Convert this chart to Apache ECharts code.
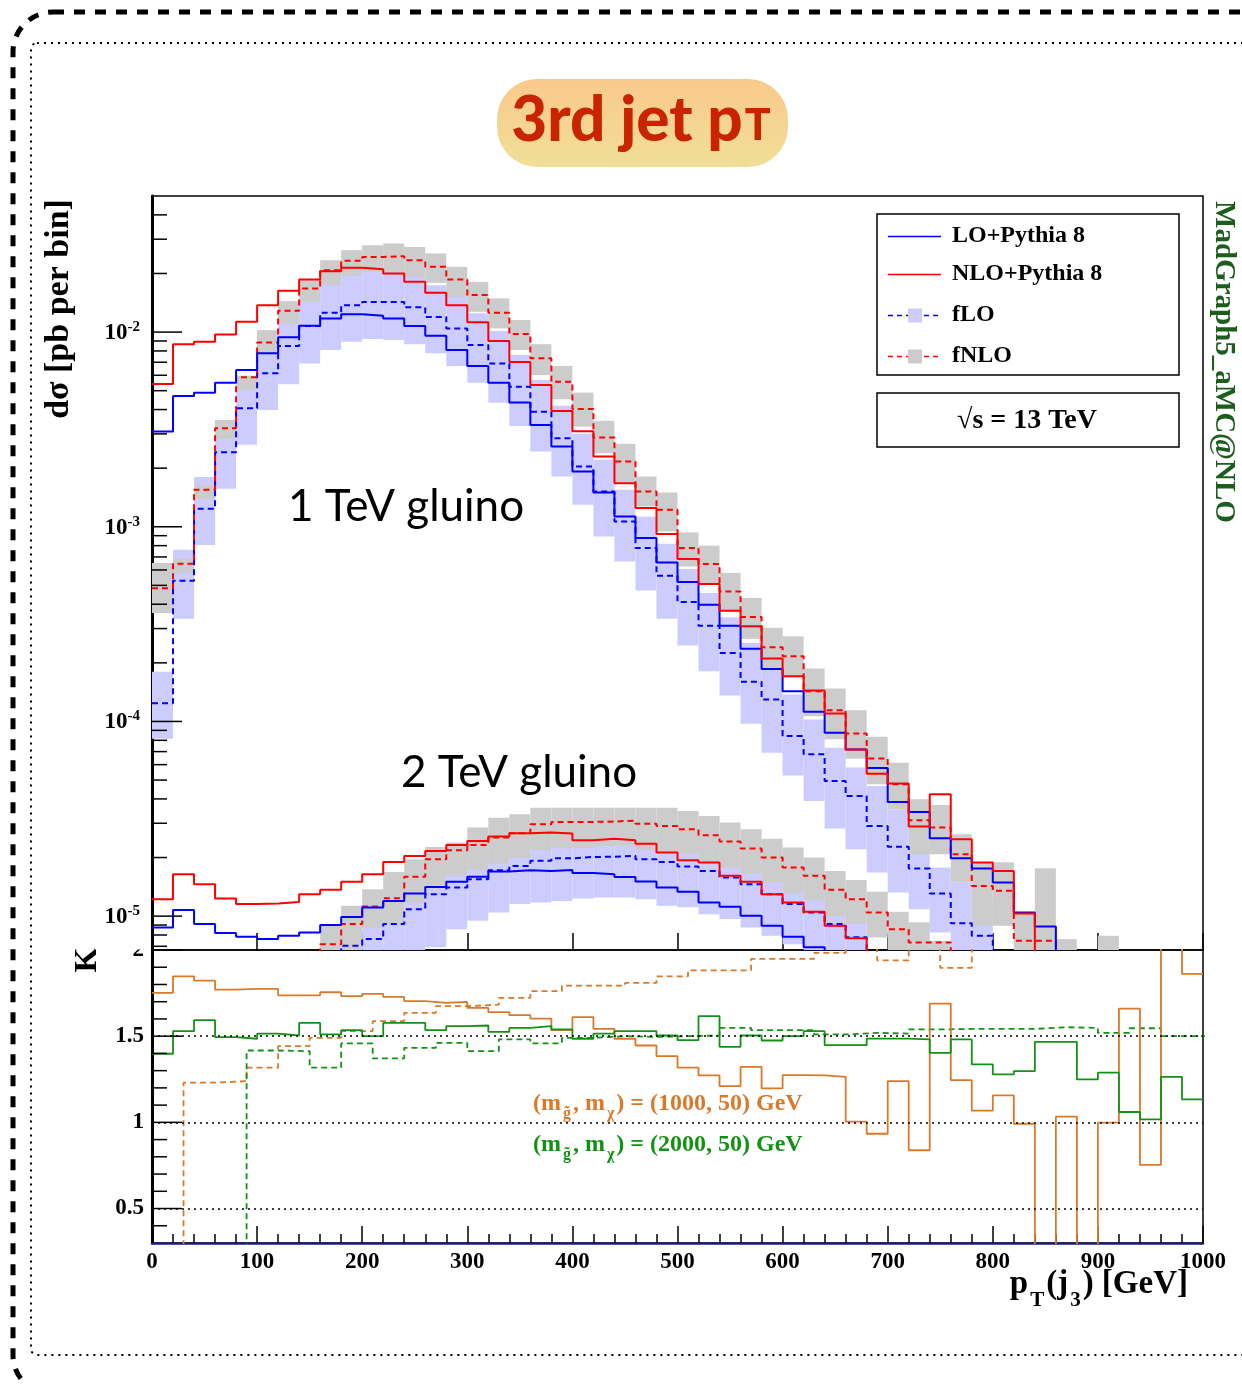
<!DOCTYPE html>
<html><head><meta charset="utf-8">
<script src="https://cdn.jsdelivr.net/npm/echarts@6/dist/echarts.min.js"></script>
<style>html,body{margin:0;padding:0;background:#fff}#c{width:1242px;height:1384px}</style>
</head><body><div id="c"></div><script>
// ---------------- DATA ----------------
// x bins: 20 GeV wide for the spectra and the matched K-factors, 30 GeV for the fixed-order K-factors
const binWidth = 20;
const kBinWidth = 30;
const xTicks = [0, 100, 200, 300, 400, 500, 600, 700, 800, 900, 1000];

// top panel: log10( dsigma [pb per bin] ), one entry per 20 GeV bin (null = no entry)
// 1 TeV gluino
const lo1 = [-2.511,-2.328,-2.311,-2.260,-2.195,-2.109,-2.027,-1.968,-1.930,-1.908,-1.916,-1.930,-1.969,-2.019,-2.092,-2.174,-2.260,-2.362,-2.477,-2.588,-2.716,-2.824,-2.947,-3.058,-3.183,-3.284,-3.400,-3.508,-3.627,-3.730,-3.845,-3.950,-4.058,-4.144,-4.239,-4.414,-4.465,-4.600,-4.703,-4.755,-4.827,-4.981,-5.053,-5.5];
const nlo1 = [-2.267,-2.062,-2.050,-2.012,-1.947,-1.862,-1.788,-1.730,-1.687,-1.670,-1.677,-1.699,-1.742,-1.798,-1.862,-1.950,-2.046,-2.154,-2.272,-2.405,-2.509,-2.639,-2.776,-2.904,-3.037,-3.166,-3.294,-3.431,-3.511,-3.677,-3.768,-3.841,-3.959,-4.144,-4.268,-4.319,-4.540,-4.374,-4.605,-4.725,-4.768,-4.986,-5.5];
const flo1 = [-3.906,-3.277,-2.908,-2.617,-2.391,-2.212,-2.072,-1.969,-1.901,-1.862,-1.845,-1.845,-1.873,-1.922,-1.981,-2.067,-2.161,-2.281,-2.409,-2.545,-2.691,-2.819,-2.973,-3.109,-3.251,-3.386,-3.508,-3.648,-3.796,-3.887,-4.075,-4.169,-4.306,-4.383,-4.537,-4.643,-4.755,-4.884,-5.037,-5.101,-5.5];
const fnlo1 = [-3.316,-3.190,-2.810,-2.494,-2.232,-2.053,-1.891,-1.776,-1.682,-1.634,-1.614,-1.610,-1.631,-1.665,-1.730,-1.810,-1.901,-2.010,-2.135,-2.255,-2.395,-2.542,-2.665,-2.819,-2.913,-3.109,-3.191,-3.332,-3.463,-3.619,-3.665,-3.845,-3.942,-4.062,-4.190,-4.323,-4.508,-4.545,-4.682,-4.845,-4.870,-5.127,-5.127,-5.5];
const flo1Hi = [-3.745,-3.118,-2.745,-2.451,-2.226,-2.046,-1.908,-1.805,-1.738,-1.697,-1.682,-1.682,-1.708,-1.759,-1.815,-1.903,-1.995,-2.118,-2.246,-2.379,-2.523,-2.656,-2.810,-2.949,-3.087,-3.217,-3.340,-3.465,-3.596,-3.733,-3.862,-3.990,-4.135,-4.237,-4.332,-4.451,-4.639,-4.750,-4.827,-4.928];
const flo1Lo = [-4.089,-3.473,-3.094,-2.805,-2.579,-2.400,-2.268,-2.161,-2.092,-2.050,-2.036,-2.041,-2.062,-2.109,-2.174,-2.260,-2.363,-2.482,-2.614,-2.742,-2.887,-3.050,-3.178,-3.328,-3.472,-3.610,-3.742,-3.867,-4.012,-4.161,-4.277,-4.409,-4.550,-4.656,-4.776,-4.878,-4.964,-5.084,-5.3,-5.3];
const fnlo1Hi = [-3.186,-3.164,-2.785,-2.451,-2.224,-1.990,-1.841,-1.733,-1.631,-1.579,-1.554,-1.545,-1.563,-1.596,-1.665,-1.742,-1.827,-1.938,-2.062,-2.174,-2.311,-2.456,-2.574,-2.742,-2.824,-3.029,-3.097,-3.237,-3.366,-3.519,-3.563,-3.728,-3.831,-3.942,-4.078,-4.212,-4.400,-4.429,-4.579,-4.723,-4.723,-4.979,-4.754,-5.118,null,-5.101];
const fnlo1Lo = [-3.443,-3.237,-2.858,-2.550,-2.297,-2.109,-1.955,-1.845,-1.759,-1.711,-1.691,-1.691,-1.716,-1.747,-1.819,-1.896,-1.981,-2.092,-2.221,-2.345,-2.486,-2.622,-2.776,-2.896,-3.024,-3.204,-3.289,-3.434,-3.576,-3.730,-3.768,-3.973,-4.092,-4.191,-4.323,-4.451,-4.682,-4.682,-4.827,-5.050,-5.050,-5.3,-5.3,-5.3,null,-5.3];

// 2 TeV gluino
const lo2 = [-5.058,-4.969,-5.041,-5.087,-5.106,-5.118,-5.101,-5.084,-5.046,-5.004,-4.955,-4.922,-4.884,-4.850,-4.824,-4.798,-4.771,-4.764,-4.768,-4.763,-4.779,-4.785,-4.799,-4.822,-4.853,-4.875,-4.930,-4.952,-4.998,-5.050,-5.106,-5.160,-5.5];
const nlo2 = [-4.913,-4.785,-4.836,-4.909,-4.938,-4.935,-4.927,-4.887,-4.865,-4.824,-4.785,-4.722,-4.691,-4.665,-4.634,-4.614,-4.591,-4.574,-4.571,-4.576,-4.610,-4.602,-4.610,-4.628,-4.673,-4.713,-4.725,-4.793,-4.824,-4.887,-4.930,-4.978,-5.050,-5.113,-5.5];
const flo2 = [null,null,null,null,null,null,null,null,-5.5,-5.152,-5.118,-5.041,-4.964,-4.887,-4.853,-4.810,-4.764,-4.742,-4.716,-4.703,-4.696,-4.695,-4.690,-4.708,-4.722,-4.745,-4.768,-4.802,-4.836,-4.887,-4.938,-4.981,-5.041,-5.109,-5.5];
const fnlo2 = [null,null,null,null,null,null,null,-5.5,-5.144,-5.041,-4.950,-4.908,-4.798,-4.708,-4.662,-4.634,-4.596,-4.574,-4.528,-4.516,-4.516,-4.514,-4.509,-4.526,-4.537,-4.554,-4.585,-4.617,-4.653,-4.699,-4.750,-4.793,-4.865,-4.913,-4.981,-5.067,-5.135,-5.135,-5.5];
const flo2Hi = [null,null,null,null,null,null,null,null,null,-4.97,-4.94,-4.86,-4.78,-4.71,-4.67,-4.63,-4.58,-4.56,-4.54,-4.52,-4.52,-4.51,-4.51,-4.53,-4.54,-4.57,-4.59,-4.62,-4.66,-4.71,-4.76,-4.80,-4.86,-4.93];
const flo2Lo = [null,null,null,null,null,null,null,null,null,-5.35,-5.30,-5.25,-5.19,-5.16,-5.067,-5.024,-4.981,-4.938,-4.930,-4.922,-4.909,-4.904,-4.904,-4.913,-4.947,-4.954,-4.990,-5.015,-5.058,-5.101,-5.144,-5.195,-5.26,-5.33];
const fnlo2Hi = [null,null,null,null,null,null,null,null,-5.050,-4.947,-4.862,-4.773,-4.708,-4.645,-4.622,-4.545,-4.494,-4.477,-4.443,-4.443,-4.443,-4.443,-4.443,-4.443,-4.443,-4.460,-4.486,-4.519,-4.554,-4.602,-4.648,-4.699,-4.768,-4.814,-4.875,-4.978,-5.032,-5.127];
const fnlo2Lo = [null,null,null,null,null,null,null,null,-5.27,-5.17,-5.06,-5.04,-4.93,-4.84,-4.79,-4.76,-4.73,-4.70,-4.66,-4.65,-4.65,-4.64,-4.64,-4.66,-4.67,-4.68,-4.72,-4.75,-4.78,-4.83,-4.88,-4.92,-5.00,-5.04,-5.11,-5.20,-5.27,-5.27];

// bottom panel: K factors
const kMatched1 = [1.751,1.847,1.822,1.770,1.774,1.774,1.737,1.737,1.755,1.732,1.745,1.728,1.703,1.693,1.699,1.664,1.639,1.622,1.602,1.535,1.610,1.542,1.485,1.446,1.384,1.317,1.272,1.210,1.322,1.197,1.274,1.272,1.264,1.004,0.934,1.239,0.838,1.689,1.245,1.068,1.156,0.992,0,1.033,0,0.998,1.660,0.753,2.5,1.861];
const kMatched2 = [1.398,1.529,1.593,1.494,1.485,1.515,1.504,1.577,1.510,1.535,1.500,1.577,1.577,1.535,1.558,1.562,1.525,1.548,1.558,1.539,1.485,1.515,1.529,1.529,1.504,1.477,1.616,1.438,1.504,1.475,1.500,1.529,1.448,1.448,1.486,1.486,1.481,1.403,1.481,1.336,1.278,1.297,1.467,1.467,1.249,1.288,1.060,1.017,1.264,1.133];
const kFixed1 = [0,1.230,1.239,1.317,1.442,1.490,1.529,1.587,1.635,1.674,1.683,1.722,1.761,1.793,1.793,1.809,1.847,1.882,1.882,1.948,1.948,1.983,2.05,1.940,2.05,1.896,2.2,2.2,2.2,2.2];
const kFixed2 = [0,0,0,1.417,1.413,1.317,1.458,1.371,1.432,1.461,1.413,1.481,1.458,1.490,1.500,1.496,1.500,1.504,1.548,1.535,1.535,1.510,1.519,1.515,1.539,1.542,1.542,1.542,1.552,1.548,1.519,1.546,1.500,1.500];
const kRefLines = [0.5, 1, 1.5];

// ---------------- helpers ----------------
const Y_MIN = 6.7e-6, Y_MAX = 0.05, K_MIN = 0.3, K_MAX = 2.0;
const SERIF = '"Liberation Serif", "Times New Roman", serif';
const BLUE = '#0000ff', RED = '#ff0000', ORANGE = '#d9792a', GREEN = '#129212';

function stepData(values, width, isLog) {
  const out = [];
  for (let i = 0; i < values.length; i++) {
    const v = values[i];
    if (v == null) { if (out.length && out[out.length - 1][1] !== '-') out.push([i * width, '-']); continue; }
    const y = isLog ? Math.pow(10, v) : v;
    out.push([i * width, y]);
    if (values[i + 1] == null) out.push([(i + 1) * width, y]);
  }
  return out;
}
function bandData(lo, hi) {
  const out = [];
  for (let i = 0; i < lo.length; i++) {
    if (lo[i] == null || hi[i] == null) continue;
    out.push([i * binWidth, (i + 1) * binWidth, Math.pow(10, lo[i]), Math.pow(10, hi[i])]);
  }
  return out;
}
function bandSeries(lo, hi, color, z) {
  return {
    type: 'custom', xAxisIndex: 0, yAxisIndex: 0, z: z, silent: true,
    encode: { x: [0, 1], y: [2, 3] },
    data: bandData(lo, hi),
    renderItem: function (params, api) {
      const a = api.coord([api.value(0), api.value(3)]);
      const b = api.coord([api.value(1), api.value(2)]);
      const cs = params.coordSys;
      const shape = echarts.graphic.clipRectByRect(
        { x: a[0], y: a[1], width: b[0] - a[0], height: b[1] - a[1] },
        { x: cs.x, y: cs.y, width: cs.width, height: cs.height });
      return shape && { type: 'rect', shape: shape, style: { fill: color } };
    }
  };
}
function stepSeries(values, width, color, dashed, axis, isLog, lw) {
  return {
    type: 'line', xAxisIndex: axis, yAxisIndex: axis, step: 'end', symbol: 'none', showSymbol: false,
    silent: true, clip: true, z: 4, data: stepData(values, width, isLog),
    lineStyle: { color: color, width: lw || 2, type: dashed ? [6, 4] : 'solid' }
  };
}
function tickSeries(list, axis) {
  return {
    type: 'custom', xAxisIndex: axis, yAxisIndex: axis, z: 6, silent: true,
    encode: { x: 0, y: 1 }, data: list,
    renderItem: function (params, api) {
      const p = api.coord([0, api.value(1)]);
      return { type: 'line', shape: { x1: p[0], y1: p[1], x2: p[0] + api.value(2), y2: p[1] },
               style: { stroke: '#000', lineWidth: 1.5 } };
    }
  };
}
const logTicks = [];
for (let e = -6; e <= -2; e++) for (let m = 1; m <= 9; m++) {
  const v = m * Math.pow(10, e);
  if (v > Y_MIN && v < Y_MAX) logTicks.push([0, v, m === 1 ? 30 : 15]);
}
const kTicks = [];
for (let k = 4; k <= 20; k++) kTicks.push([0, k / 10, k % 5 === 0 ? 30 : 15]);

// ---------------- chart ----------------
const chart = echarts.init(document.getElementById('c'), null, { renderer: 'canvas' });
const labelFont = { fontFamily: SERIF, fontWeight: 'bold', fontSize: 23, color: '#000' };

const option = {
  animation: false,
  backgroundColor: '#fff',
  grid: [
    { left: 152, right: 39, top: 196, height: 754, show: true, borderColor: '#000', borderWidth: 1.5, backgroundColor: 'transparent' },
    { left: 152, right: 39, top: 950, height: 293, show: true, borderColor: '#000', borderWidth: 1.5, backgroundColor: 'transparent' }
  ],
  xAxis: [
    { gridIndex: 0, type: 'value', min: xTicks[0], max: xTicks[xTicks.length - 1], interval: 100,
      axisLine: { show: false }, axisLabel: { show: false }, splitLine: { show: false },
      axisTick: { show: true, inside: true, length: 17, lineStyle: { color: '#000', width: 1.5 } } },
    { gridIndex: 1, type: 'value', min: xTicks[0], max: xTicks[xTicks.length - 1], interval: 100,
      axisLine: { show: true, onZero: false, lineStyle: { color: '#1c1c7a', width: 2.5 } },
      axisTick: { show: true, inside: true, length: 17, lineStyle: { color: '#000', width: 1.5 } },
      minorTick: { show: true, splitNumber: 5, length: 9, lineStyle: { color: '#000', width: 1.5 } },
      axisLabel: Object.assign({ margin: 8, formatter: function (v) { return String(v); } }, labelFont),
      splitLine: { show: false } }
  ],
  yAxis: [
    { gridIndex: 0, type: 'log', logBase: 10, min: Y_MIN, max: Y_MAX,
      axisLine: { show: true, lineStyle: { color: '#000', width: 3 } },
      axisTick: { show: false }, splitLine: { show: false }, minorTick: { show: false },
      axisLabel: {
        margin: 12,
        formatter: function (v) {
          const l = Math.log10(v), e = Math.round(l);
          if (Math.abs(l - e) > 0.01) return '';
          return '{b|10}{s|' + e + '}';
        },
        rich: {
          b: { fontFamily: SERIF, fontWeight: 'bold', fontSize: 23, color: '#000', verticalAlign: 'bottom' },
          s: { fontFamily: SERIF, fontWeight: 'bold', fontSize: 15, color: '#000', verticalAlign: 'top', padding: [0, 0, 10, 0] }
        }
      } },
    { gridIndex: 1, type: 'value', min: K_MIN, max: K_MAX, interval: 0.1,
      axisLine: { show: true, onZero: false, lineStyle: { color: '#000', width: 3 } },
      axisTick: { show: false }, splitLine: { show: false },
      axisLabel: Object.assign({ margin: 8, formatter: function (v) {
        return Math.abs(v * 2 - Math.round(v * 2)) < 1e-6 ? String(+v.toFixed(1)) : '';
      } }, labelFont) }
  ],
  series: [
    bandSeries(flo1Lo, flo1Hi, '#ccccff', 1),
    bandSeries(flo2Lo, flo2Hi, '#ccccff', 1),
    bandSeries(fnlo1Lo, fnlo1Hi, '#cccccc', 2),
    bandSeries(fnlo2Lo, fnlo2Hi, '#cccccc', 2),
    stepSeries(flo1, binWidth, BLUE, true, 0, true),
    stepSeries(fnlo1, binWidth, RED, true, 0, true),
    stepSeries(flo2, binWidth, BLUE, true, 0, true),
    stepSeries(fnlo2, binWidth, RED, true, 0, true),
    stepSeries(lo1, binWidth, BLUE, false, 0, true),
    stepSeries(nlo1, binWidth, RED, false, 0, true),
    stepSeries(lo2, binWidth, BLUE, false, 0, true),
    stepSeries(nlo2, binWidth, RED, false, 0, true),
    Object.assign(stepSeries(kFixed1, kBinWidth, ORANGE, true, 1, false, 1.8), {
      markLine: { silent: true, symbol: 'none', label: { show: false },
        lineStyle: { color: '#000', width: 1.5, type: [2, 4] },
        data: kRefLines.map(function (v) { return { yAxis: v }; }) } }),
    stepSeries(kFixed2, kBinWidth, GREEN, true, 1, false, 1.8),
    stepSeries(kMatched1, binWidth, ORANGE, false, 1, false, 1.8),
    stepSeries(kMatched2, binWidth, GREEN, false, 1, false, 1.8),
    tickSeries(logTicks, 0),
    tickSeries(kTicks, 1)
  ],
  graphic: [
    // page frames
    { type: 'rect', z: 50, silent: true, shape: { x: 13, y: 12, width: 1300, height: 1383, r: 40 },
      style: { fill: 'none', stroke: '#000', lineWidth: 5, lineDash: [11, 10] } },
    { type: 'rect', z: 50, silent: true, shape: { x: 31, y: 43, width: 1300, height: 1312, r: 6 },
      style: { fill: 'none', stroke: '#000', lineWidth: 2, lineDash: [2, 5] } },
    // hide upper half of the "2" K label (covered by top pad in original)
    { type: 'rect', z: 60, silent: true, shape: { x: 95, y: 932, width: 55, height: 17.5 }, style: { fill: '#fff' } },
    // title
    { type: 'rect', z: 50, silent: true, shape: { x: 497, y: 79, width: 291, height: 88, r: 40 },
      style: { fill: new echarts.graphic.LinearGradient(0, 0, 0, 1, [{ offset: 0, color: '#f9c98b' }, { offset: 1, color: '#f1df98' }]) } },
    { type: 'text', z: 51, silent: true, x: 641, y: 121,
      style: { text: '{a|3rd jet p}{b|T}', textAlign: 'center', textVerticalAlign: 'middle',
        rich: { a: { fontFamily: 'Lato', fontWeight: 900, fontSize: 62, fill: '#c82400', color: '#c82400', verticalAlign: 'bottom' },
                b: { fontFamily: 'Lato', fontWeight: 900, fontSize: 43, fill: '#c82400', color: '#c82400', verticalAlign: 'bottom', padding: [0, 0, 4, 2] } } } },
    // in-plot labels
    { type: 'text', z: 51, silent: true, x: 406, y: 507,
      style: { text: '1 TeV gluino', font: '44px Lato', fill: '#000', textAlign: 'center', textVerticalAlign: 'middle' } },
    { type: 'text', z: 51, silent: true, x: 519, y: 773,
      style: { text: '2 TeV gluino', font: '44px Lato', fill: '#000', textAlign: 'center', textVerticalAlign: 'middle' } },
    // legend box
    { type: 'rect', z: 51, silent: true, shape: { x: 877, y: 214, width: 302, height: 161 },
      style: { fill: '#fff', stroke: '#000', lineWidth: 1.5 } },
    { type: 'line', z: 52, silent: true, shape: { x1: 888, y1: 236.5, x2: 941, y2: 236.5 }, style: { stroke: BLUE, lineWidth: 1.5 } },
    { type: 'line', z: 52, silent: true, shape: { x1: 888, y1: 274.5, x2: 941, y2: 274.5 }, style: { stroke: RED, lineWidth: 1.5 } },
    { type: 'line', z: 52, silent: true, shape: { x1: 888, y1: 315.5, x2: 941, y2: 315.5 }, style: { stroke: BLUE, lineWidth: 1.5, lineDash: [5, 4] } },
    { type: 'rect', z: 53, silent: true, shape: { x: 908, y: 308.5, width: 14, height: 14 }, style: { fill: '#ccccff' } },
    { type: 'line', z: 52, silent: true, shape: { x1: 888, y1: 356.5, x2: 941, y2: 356.5 }, style: { stroke: RED, lineWidth: 1.5, lineDash: [5, 4] } },
    { type: 'rect', z: 53, silent: true, shape: { x: 908, y: 349.5, width: 14, height: 14 }, style: { fill: '#cccccc' } },
    { type: 'text', z: 53, silent: true, x: 952, y: 236, style: { text: 'LO+Pythia 8', font: 'bold 24px ' + SERIF, fill: '#000', textVerticalAlign: 'middle' } },
    { type: 'text', z: 53, silent: true, x: 952, y: 274, style: { text: 'NLO+Pythia 8', font: 'bold 24px ' + SERIF, fill: '#000', textVerticalAlign: 'middle' } },
    { type: 'text', z: 53, silent: true, x: 952, y: 315, style: { text: 'fLO', font: 'bold 24px ' + SERIF, fill: '#000', textVerticalAlign: 'middle' } },
    { type: 'text', z: 53, silent: true, x: 952, y: 356, style: { text: 'fNLO', font: 'bold 24px ' + SERIF, fill: '#000', textVerticalAlign: 'middle' } },
    { type: 'rect', z: 51, silent: true, shape: { x: 877, y: 393, width: 302, height: 54 },
      style: { fill: '#fff', stroke: '#000', lineWidth: 1.5 } },
    { type: 'text', z: 53, silent: true, x: 1027, y: 421, style: { text: '\u221As = 13 TeV', font: 'bold 28px ' + SERIF, fill: '#000', textAlign: 'center', textVerticalAlign: 'middle' } },
    // side / axis titles
    { type: 'text', z: 53, silent: true, x: 1223, y: 362, rotation: -Math.PI / 2,
      style: { text: 'MadGraph5_aMC@NLO', font: 'bold 29px ' + SERIF, fill: '#1b5e1b', textAlign: 'center', textVerticalAlign: 'middle' } },
    { type: 'text', z: 53, silent: true, x: 59, y: 309, rotation: Math.PI / 2,
      style: { text: 'd\u03C3 [pb per bin]', font: 'bold 34px ' + SERIF, fill: '#000', textAlign: 'center', textVerticalAlign: 'middle' } },
    { type: 'text', z: 53, silent: true, x: 88, y: 960, rotation: Math.PI / 2,
      style: { text: 'K', font: 'bold 32px ' + SERIF, fill: '#000', textAlign: 'center', textVerticalAlign: 'middle' } },
    { type: 'text', z: 53, silent: true, x: 1188, y: 1268,
      style: { text: '{a|p}{s|T}{a|(j}{s|3}{a|) [GeV]}', textAlign: 'right', textVerticalAlign: 'top',
        rich: { a: { fontFamily: SERIF, fontWeight: 'bold', fontSize: 33, fill: '#000', verticalAlign: 'top' },
                s: { fontFamily: SERIF, fontWeight: 'bold', fontSize: 21, fill: '#000', verticalAlign: 'top', padding: [22, 2, 0, 2] } } } },
    { type: 'text', z: 53, silent: true, x: 533, y: 1092,
      style: { text: '{a|(m}{s|g\u0303}{a|, m}{s|\u03C7}{a|) = (1000, 50) GeV}', textVerticalAlign: 'top',
        rich: { a: { fontFamily: SERIF, fontWeight: 'bold', fontSize: 24, fill: ORANGE, verticalAlign: 'top' },
                s: { fontFamily: SERIF, fontWeight: 'bold', fontSize: 16, fill: ORANGE, verticalAlign: 'top', padding: [14, 2, 0, 2] } } } },
    { type: 'text', z: 53, silent: true, x: 533, y: 1133,
      style: { text: '{a|(m}{s|g\u0303}{a|, m}{s|\u03C7}{a|) = (2000, 50) GeV}', textVerticalAlign: 'top',
        rich: { a: { fontFamily: SERIF, fontWeight: 'bold', fontSize: 24, fill: GREEN, verticalAlign: 'top' },
                s: { fontFamily: SERIF, fontWeight: 'bold', fontSize: 16, fill: GREEN, verticalAlign: 'top', padding: [14, 2, 0, 2] } } } }
  ]
};
chart.setOption(option);
</script></body></html>
